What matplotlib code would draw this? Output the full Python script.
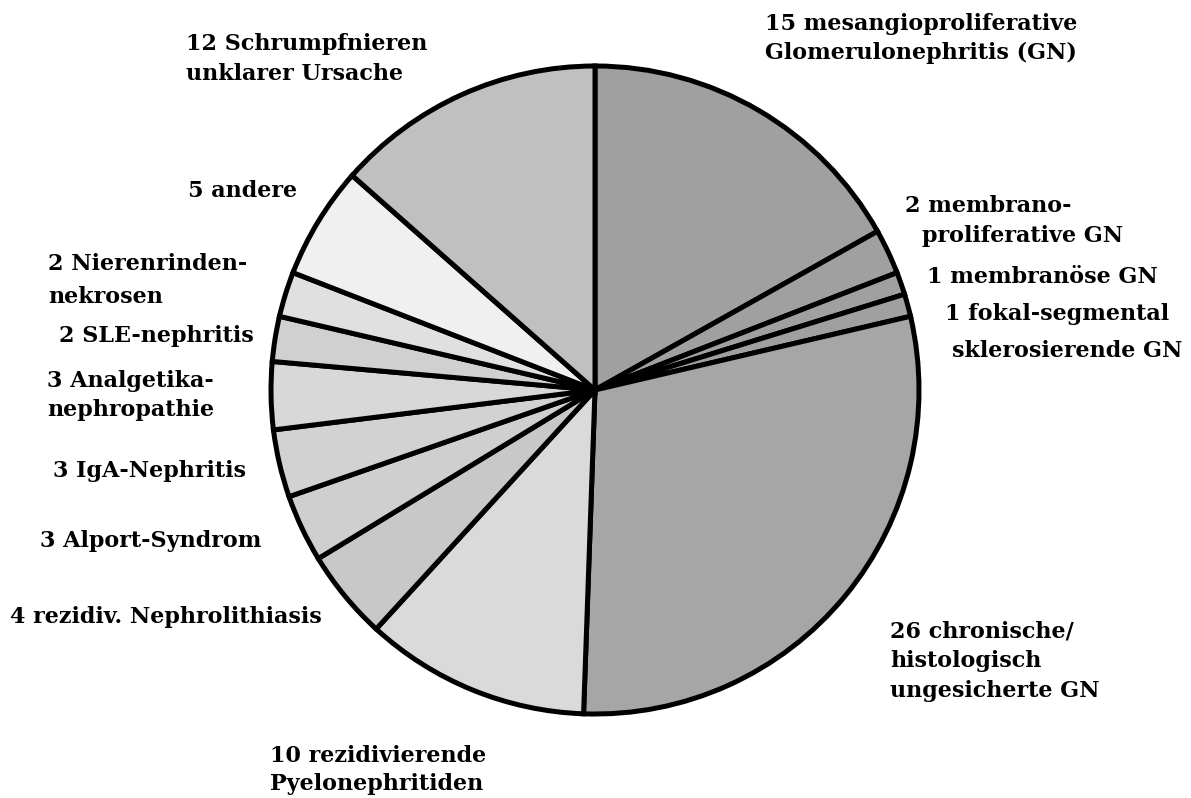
import matplotlib
matplotlib.use("Agg")
import matplotlib.pyplot as plt

# Diagnoses (clockwise from 12 o'clock) and patient counts
diagnoses = [
    "mesangioproliferative\nGlomerulonephritis (GN)",
    "membrano-\nproliferative GN",
    "membranöse GN",
    "fokal-segmental\nsklerosierende GN",
    "chronische/\nhistologisch\nungesicherte GN",
    "rezidivierende\nPyelonephritiden",
    "rezidiv. Nephrolithiasis",
    "Alport-Syndrom",
    "IgA-Nephritis",
    "Analgetika-\nnephropathie",
    "SLE-nephritis",
    "Nierenrinden-\nnekrosen",
    "andere",
    "Schrumpfnieren\nunklarer Ursache",
]
counts = [15, 2, 1, 1, 26, 10, 4, 3, 3, 3, 2, 2, 5, 12]
shades = [
    "#a0a0a0", "#a0a0a0", "#a0a0a0", "#a0a0a0", "#a6a6a6",
    "#dadada", "#c8c8c8", "#cfcfcf", "#d2d2d2", "#d8d8d8",
    "#d0d0d0", "#e0e0e0", "#f0f0f0", "#c0c0c0",
]

# Label layout: (left x, baseline y) in pixels from the top-left, one per line
line_pos = [
    [(765, 30), (765, 59)],
    [(905, 212), (922, 242)],
    [(927, 283)],
    [(945, 320), (952, 357)],
    [(890, 637), (890, 667), (890, 697)],
    [(270, 762), (270, 790)],
    [(10, 623)],
    [(40, 547)],
    [(53, 477)],
    [(47, 387), (47, 416)],
    [(59, 342)],
    [(48, 270), (48, 303)],
    [(188, 197)],
    [(186, 50), (186, 80)],
]

W, H = 1191, 798
fig = plt.figure(figsize=(W / 100, H / 100), dpi=100)
ax = fig.add_axes([0, 0, 1, 1])
ax.set_xlim(0, W)
ax.set_ylim(0, H)
ax.set_aspect("equal")
ax.axis("off")

ax.pie(
    counts,
    colors=shades,
    startangle=90,
    counterclock=False,
    center=(595, H - 390),
    radius=324,
    wedgeprops=dict(edgecolor="black", linewidth=3.6, joinstyle="miter"),
    frame=True,
)
ax.set_xlim(0, W)
ax.set_ylim(0, H)
ax.axis("off")

for v, name, pos in zip(counts, diagnoses, line_pos):
    lines = f"{v} {name}".split("\n")
    for text, (x, yb) in zip(lines, pos):
        ax.text(x, H - yb, text, ha="left", va="baseline",
                fontsize=16, fontweight="bold", family="DejaVu Serif",
                color="black")

fig.savefig("out.png", dpi=100)
